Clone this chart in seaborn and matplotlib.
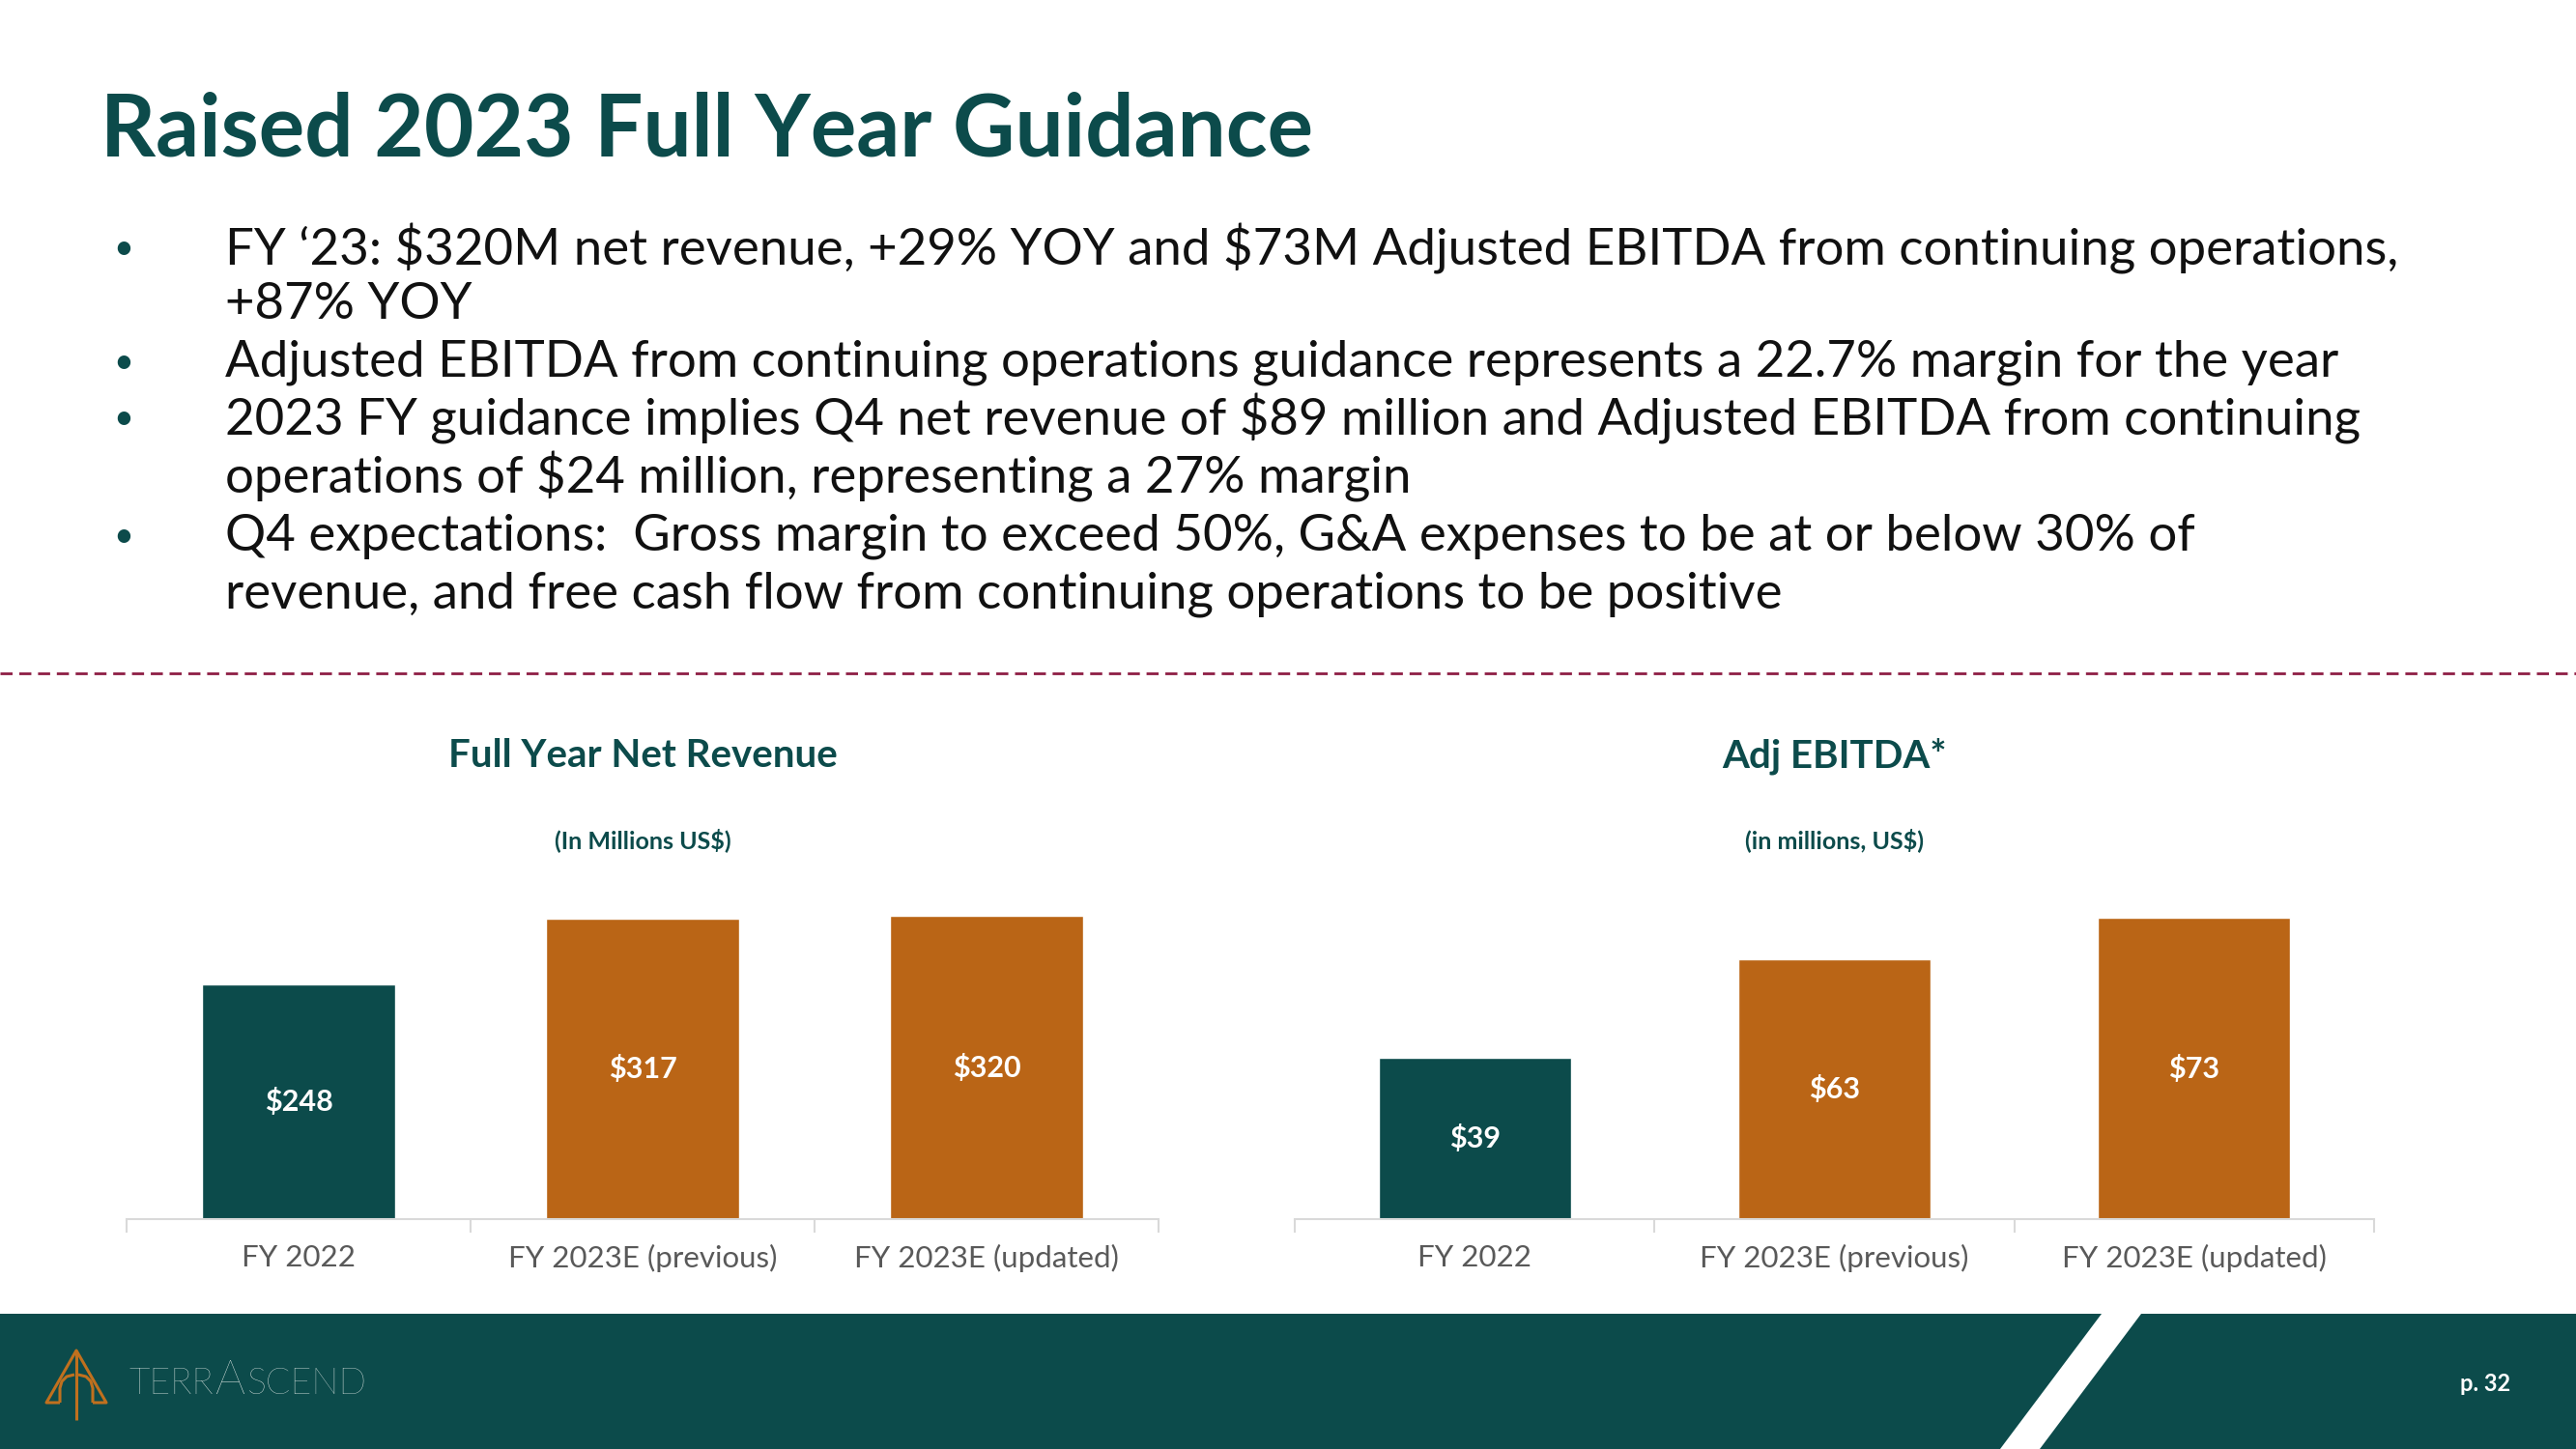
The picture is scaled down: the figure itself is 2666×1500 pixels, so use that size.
import matplotlib
matplotlib.use("Agg")
import matplotlib.pyplot as plt
import seaborn as sns
import pandas as pd
from matplotlib.patches import Polygon, Rectangle
from matplotlib.lines import Line2D

# ---------------- data ----------------
categories = ["FY 2022", "FY 2023E (previous)", "FY 2023E (updated)"]
revenue = [248, 317, 320]
ebitda = [39, 63, 73]
revenue_labels = ["$248", "$317", "$320"]
ebitda_labels = ["$39", "$63", "$73"]

title = "Raised 2023 Full Year Guidance"
bullet_lines = [
    (True, "FY \u201823: $320M net revenue, +29% YOY and $73M Adjusted EBITDA from continuing operations,"),
    (False, "+87% YOY"),
    (True, "Adjusted EBITDA from continuing operations guidance represents a 22.7% margin for the year"),
    (True, "2023 FY guidance implies Q4 net revenue of $89 million and Adjusted EBITDA from continuing"),
    (False, "operations of $24 million, representing a 27% margin"),
    (True, "Q4 expectations:  Gross margin to exceed 50%, G&A expenses to be at or below 30% of"),
    (False, "revenue, and free cash flow from continuing operations to be positive"),
]
chart_titles = ["Full Year Net Revenue", "Adj EBITDA*"]
chart_subtitles = ["(In Millions US$)", "(in millions, US$)"]
logo_parts = ["TERR", "A", "SCEND"]

# ---------------- style ----------------
TEAL = "#0C4B4B"
ORANGE = "#BA6516"
AXIS_GRAY = "#D9D9D9"
TICK_GRAY = "#595959"
MAROON = "#8E1E45"
LOGO_ORANGE = "#C0701E"
LOGO_WHITE = "#F0F4F0"

sns.set_theme(style="white")
plt.rcParams["font.family"] = ["Lato", "DejaVu Sans"]
plt.rcParams["text.parse_math"] = False

W, H = 2666, 1500
fig = plt.figure(figsize=(W / 100, H / 100), dpi=100)
fig.patch.set_facecolor("white")


def fx(px):
    return px / W


def fy(py):
    return 1 - py / H


# ---------------- header ----------------
fig.text(fx(104), fy(136), title, ha="left", va="center", fontsize=64,
         fontweight="bold", color=TEAL)

line_y = [257, 316, 375, 434, 494, 555, 615]
for (has_bullet, txt), yy in zip(bullet_lines, line_y):
    if has_bullet:
        fig.text(fx(128), fy(yy), "\u2022", ha="center", va="center",
                 fontsize=26, color=TEAL)
    fig.text(fx(233), fy(yy), txt, ha="left", va="center", fontsize=38,
             color="#111111")

# dashed separator
fig.add_artist(Line2D([0, 1], [fy(697), fy(697)], color=MAROON, lw=2,
                      linestyle=(0, (4.5, 2.5)), transform=fig.transFigure))

# ---------------- charts ----------------
axes_spec = [
    (131, 1199, revenue, revenue_labels, 351, 0.56),
    (1340, 2457, ebitda, ebitda_labels, 80.5, 0.535),
]
axis_y = 1262
top_y = 918

for i, (x0, x1, vals, labs, ymax, bw) in enumerate(axes_spec):
    ax = fig.add_axes([fx(x0), fy(axis_y), (x1 - x0) / W, (axis_y - top_y) / H])
    df = pd.DataFrame({"cat": categories, "val": vals})
    sns.barplot(data=df, x="cat", y="val", hue="cat",
                palette=[TEAL, ORANGE, ORANGE], width=bw, saturation=1,
                legend=False, ax=ax)
    ax.set_xlim(-0.5, 2.5)
    ax.set_ylim(0, ymax)
    ax.set_xlabel("")
    ax.set_ylabel("")
    ax.set_yticks([])
    for s in ["top", "left", "right"]:
        ax.spines[s].set_visible(False)
    ax.spines["bottom"].set_color(AXIS_GRAY)
    ax.spines["bottom"].set_linewidth(1.5)
    ax.set_xticks(range(len(categories)))
    ax.set_xticklabels(categories)
    ax.set_xticks([-0.5, 0.5, 1.5, 2.5], minor=True)
    ax.tick_params(axis="x", which="major", length=0, pad=19,
                   labelsize=22.5, labelcolor=TICK_GRAY)
    ax.tick_params(axis="x", which="minor", length=10, width=1.5,
                   color=AXIS_GRAY, direction="out", bottom=True)
    ax.set_facecolor("none")
    for j, (v, lab) in enumerate(zip(vals, labs)):
        ax.text(j, v / 2, lab, ha="center", va="center", color="white",
                fontsize=22, fontweight="bold")
    cx = (x0 + x1) / 2
    fig.text(fx(cx), fy(783), chart_titles[i], ha="center", va="center",
             fontsize=29, fontweight="bold", color=TEAL)
    fig.text(fx(cx), fy(870), chart_subtitles[i], ha="center", va="center",
             fontsize=18, fontweight="bold", color=TEAL)

# ---------------- footer ----------------
fig.add_artist(Rectangle((0, 0), 1, fy(1360), transform=fig.transFigure,
                         facecolor=TEAL, edgecolor="none", zorder=0))
stripe = [(2175, 1360), (2216, 1360), (2111, 1500), (2070, 1500)]
fig.add_artist(Polygon([(fx(a), fy(b)) for a, b in stripe], closed=True,
                       transform=fig.transFigure, facecolor="white",
                       edgecolor="none", zorder=1))


def logo_line(pts, lw=2.2):
    fig.add_artist(Line2D([fx(p[0]) for p in pts], [fy(p[1]) for p in pts],
                          color=LOGO_ORANGE, lw=lw, transform=fig.transFigure,
                          zorder=2, solid_capstyle="butt"))


logo_line([(62, 1452), (48, 1452), (79, 1398), (110, 1452), (96, 1452)])
logo_line([(79, 1398), (79, 1470)])
logo_line([(62, 1452), (62, 1437), (64, 1430), (69, 1425), (77, 1423)])
logo_line([(96, 1452), (96, 1437), (94, 1430), (89, 1425), (81, 1423)])

# logo word: place parts one after another using measured widths
renderer = fig.canvas.get_renderer()
cur_x = 133
for part, size in zip(logo_parts, [27, 35, 27]):
    t = fig.text(fx(cur_x), fy(1443), part, ha="left", va="baseline",
                 fontsize=size, fontweight="light", color=LOGO_WHITE, zorder=3)
    bb = t.get_window_extent(renderer=renderer)
    cur_x += bb.width + 2

fig.text(fx(2572), fy(1433), "p. 32", ha="center", va="center", fontsize=17,
         fontweight="bold", color="white", zorder=3)

fig.savefig("out.png", dpi=100, facecolor="white")
